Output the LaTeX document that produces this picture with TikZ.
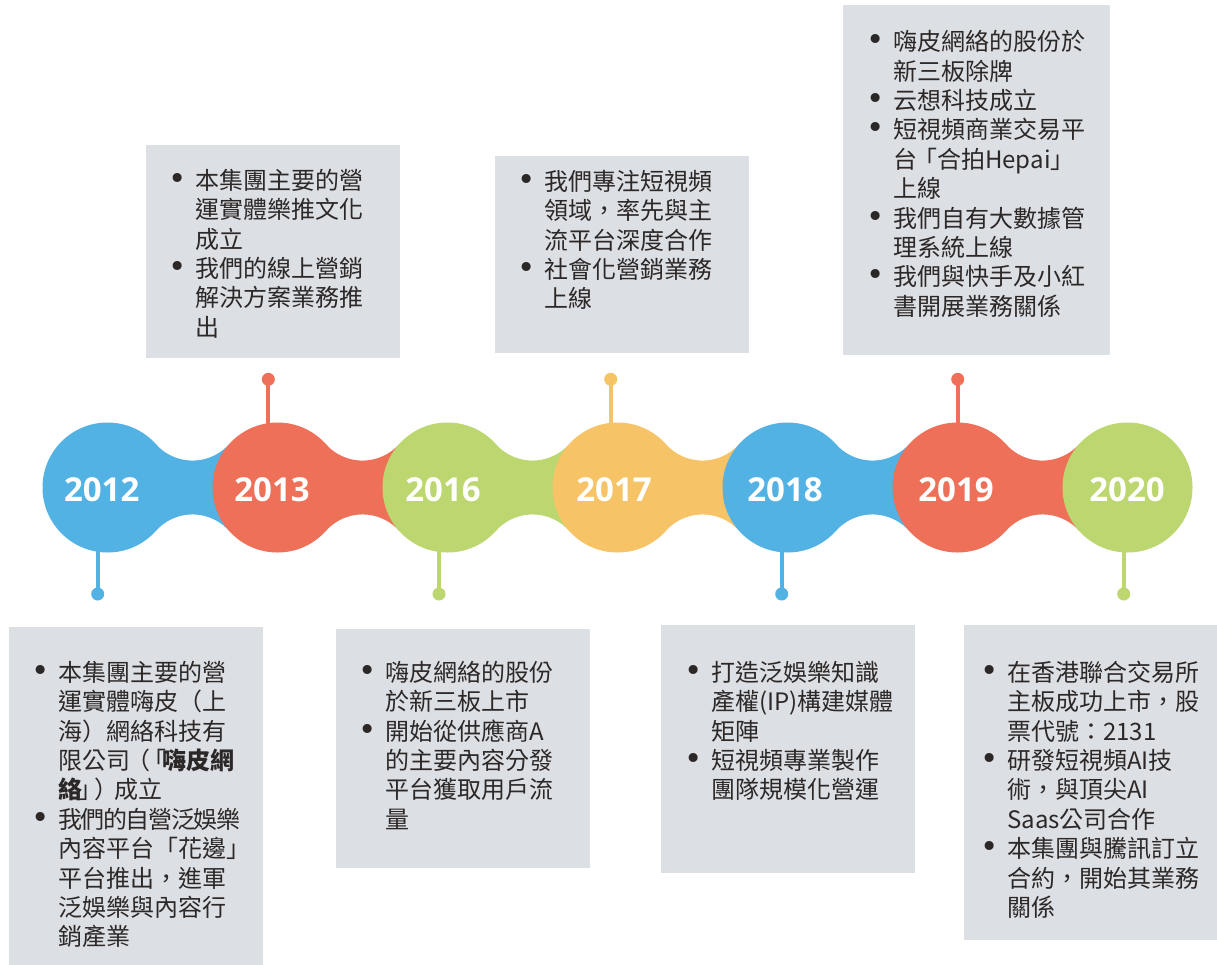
\documentclass[tikz,border=0pt]{standalone}
\usepackage{fontspec}
\setmainfont{Noto Sans CJK TC}
\newfontfamily\yearfont{Open Sans}
\newfontfamily\dvs{DejaVu Sans}
\definecolor{cblue}{RGB}{83,178,228}
\definecolor{cred}{RGB}{238,112,88}
\definecolor{cgreen}{RGB}{188,215,111}
\definecolor{cyellow}{RGB}{246,195,102}
\definecolor{cbox}{RGB}{220,223,227}
\definecolor{ctext}{RGB}{45,40,40}
\newcommand\blt{\rule{0pt}{22pt}\llap{{\dvs\fontsize{31}{31}\selectfont •}\hspace{8pt}}}
\begin{document}
\begin{tikzpicture}[x=1pt,y=-1pt,
  yrcircle/.style={circle,inner sep=0,minimum size=130},
  yeartxt/.style={text=white,inner sep=0,font=\yearfont\bfseries\fontsize{33}{36}\selectfont},
  dotnode/.style={circle,inner sep=0,minimum size=13},
  stemline/.style={line width=4},
  boxnode/.style={fill=cbox,anchor=north west,inner sep=0},
  txt/.style={anchor=north west,inner sep=0,align=left,text=ctext,font=\fontsize{24}{29.4}\selectfont}]
\useasboundingbox (0,0) rectangle (1217,964);
% boxes
\node[boxnode,minimum width=254,minimum height=212.7] (b2013) at (146,145) {};
\node[boxnode,minimum width=254,minimum height=196.7] (b2017) at (495,156) {};
\node[boxnode,minimum width=267,minimum height=350] (b2019) at (843,5) {};
\node[boxnode,minimum width=254,minimum height=338] (b2012) at (9,626.7) {};
\node[boxnode,minimum width=254,minimum height=239] (b2016) at (336,629) {};
\node[boxnode,minimum width=254,minimum height=248] (b2018) at (661,625) {};
\node[boxnode,minimum width=253,minimum height=315] (b2020) at (964,624.5) {};
% necks
\foreach \cx/\col in {107.5/cblue,277.5/cred,447.5/cgreen,617.5/cyellow,787.5/cblue,957.5/cred}
  \fill[\col] (\cx+48.4,444.2) arc[start angle=138.2,end angle=41.8,radius=49.07]
    -- (\cx+121.6,530.8) arc[start angle=-41.8,end angle=-138.2,radius=49.07] -- cycle;
% dots
\node[dotnode,fill=cblue] (d2012) at (97.7,594) {};
\node[dotnode,fill=cred] (d2013) at (268.3,379.3) {};
\node[dotnode,fill=cgreen] (d2016) at (439,594) {};
\node[dotnode,fill=cyellow] (d2017) at (610.7,379.3) {};
\node[dotnode,fill=cblue] (d2018) at (781.7,594) {};
\node[dotnode,fill=cred] (d2019) at (957.7,379.3) {};
\node[dotnode,fill=cgreen] (d2020) at (1123.7,594) {};
% circle centres
\coordinate (p2012) at (107.5,487.5);
\coordinate (p2013) at (277.5,487.5);
\coordinate (p2016) at (447.5,487.5);
\coordinate (p2017) at (617.5,487.5);
\coordinate (p2018) at (787.5,487.5);
\coordinate (p2019) at (957.5,487.5);
\coordinate (p2020) at (1127.5,487.5);
% stems
\draw[stemline,cblue] (d2012.center) -- (d2012 |- p2012);
\draw[stemline,cred] (d2013.center) -- (d2013 |- p2013);
\draw[stemline,cgreen] (d2016.center) -- (d2016 |- p2016);
\draw[stemline,cyellow] (d2017.center) -- (d2017 |- p2017);
\draw[stemline,cblue] (d2018.center) -- (d2018 |- p2018);
\draw[stemline,cred] (d2019.center) -- (d2019 |- p2019);
\draw[stemline,cgreen] (d2020.center) -- (d2020 |- p2020);
% circles
\node[yrcircle,fill=cblue] (c2012) at (p2012) {};
\node[yrcircle,fill=cred] (c2013) at (p2013) {};
\node[yrcircle,fill=cgreen] (c2016) at (p2016) {};
\node[yrcircle,fill=cyellow] (c2017) at (p2017) {};
\node[yrcircle,fill=cblue] (c2018) at (p2018) {};
\node[yrcircle,fill=cred] (c2019) at (p2019) {};
\node[yrcircle,fill=cgreen] (c2020) at (p2020) {};
% year labels
\node[yeartxt] (y2012) at (101.7,489.5) {2012};
\node[yeartxt] (y2013) at (272,489.5) {2013};
\node[yeartxt] (y2016) at (443,489.5) {2016};
\node[yeartxt] (y2017) at (614,489.5) {2017};
\node[yeartxt] (y2018) at (785,489.5) {2018};
\node[yeartxt] (y2019) at (956,489.5) {2019};
\node[yeartxt] (y2020) at (1127,489.5) {2020};
% texts
\node[txt] (x2013) at (195,167) {\blt 本集團主要的營\\運實體樂推文化\\成立\\\blt 我們的線上營銷\\解決方案業務推\\出};
\node[txt] (x2017) at (544,168) {\blt 我們專注短視頻\\領域，率先與主\\流平台深度合作\\\blt 社會化營銷業務\\上線};
\node[txt] (x2019) at (893,28.5) {\blt 嗨皮網絡的股份於\\新三板除牌\\\blt 云想科技成立\\\blt 短視頻商業交易平\\台\kern-4pt「合拍Hepai」\\上線\\\blt 我們自有大數據管\\理系統上線\\\blt 我們與快手及小紅\\書開展業務關係};
\node[txt] (x2012) at (58,659) {\blt 本集團主要的營\\運實體嗨皮（上\\海）網絡科技有\\限公司\kern-4pt（\kern-8pt「\kern-4pt\textbf{嗨皮網}\\\textbf{絡}\kern-4pt」\kern-8pt）\kern-4pt成立\\\blt {\addfontfeature{LetterSpace=-6}我們的自營泛娛樂}\\內容平台「花邊」\\平台推出，進軍\\泛娛樂與內容行\\銷產業};
\node[txt] (x2016) at (385,659) {\blt 嗨皮網絡的股份\\於新三板上市\\\blt 開始從供應商A\\的主要內容分發\\平台獲取用戶流\\量};
\node[txt] (x2018) at (711,659) {\blt 打造泛娛樂知識\\產權(IP)構建媒體\\矩陣\\\blt 短視頻專業製作\\團隊規模化營運};
\node[txt] (x2020) at (1007,659) {\blt 在香港聯合交易所\\主板成功上市，股\\票代號：2131\\\blt 研發短視頻AI技\\術，與頂尖AI\\Saas公司合作\\\blt 本集團與騰訊訂立\\合約，開始其業務\\關係};
\end{tikzpicture}
\end{document}
